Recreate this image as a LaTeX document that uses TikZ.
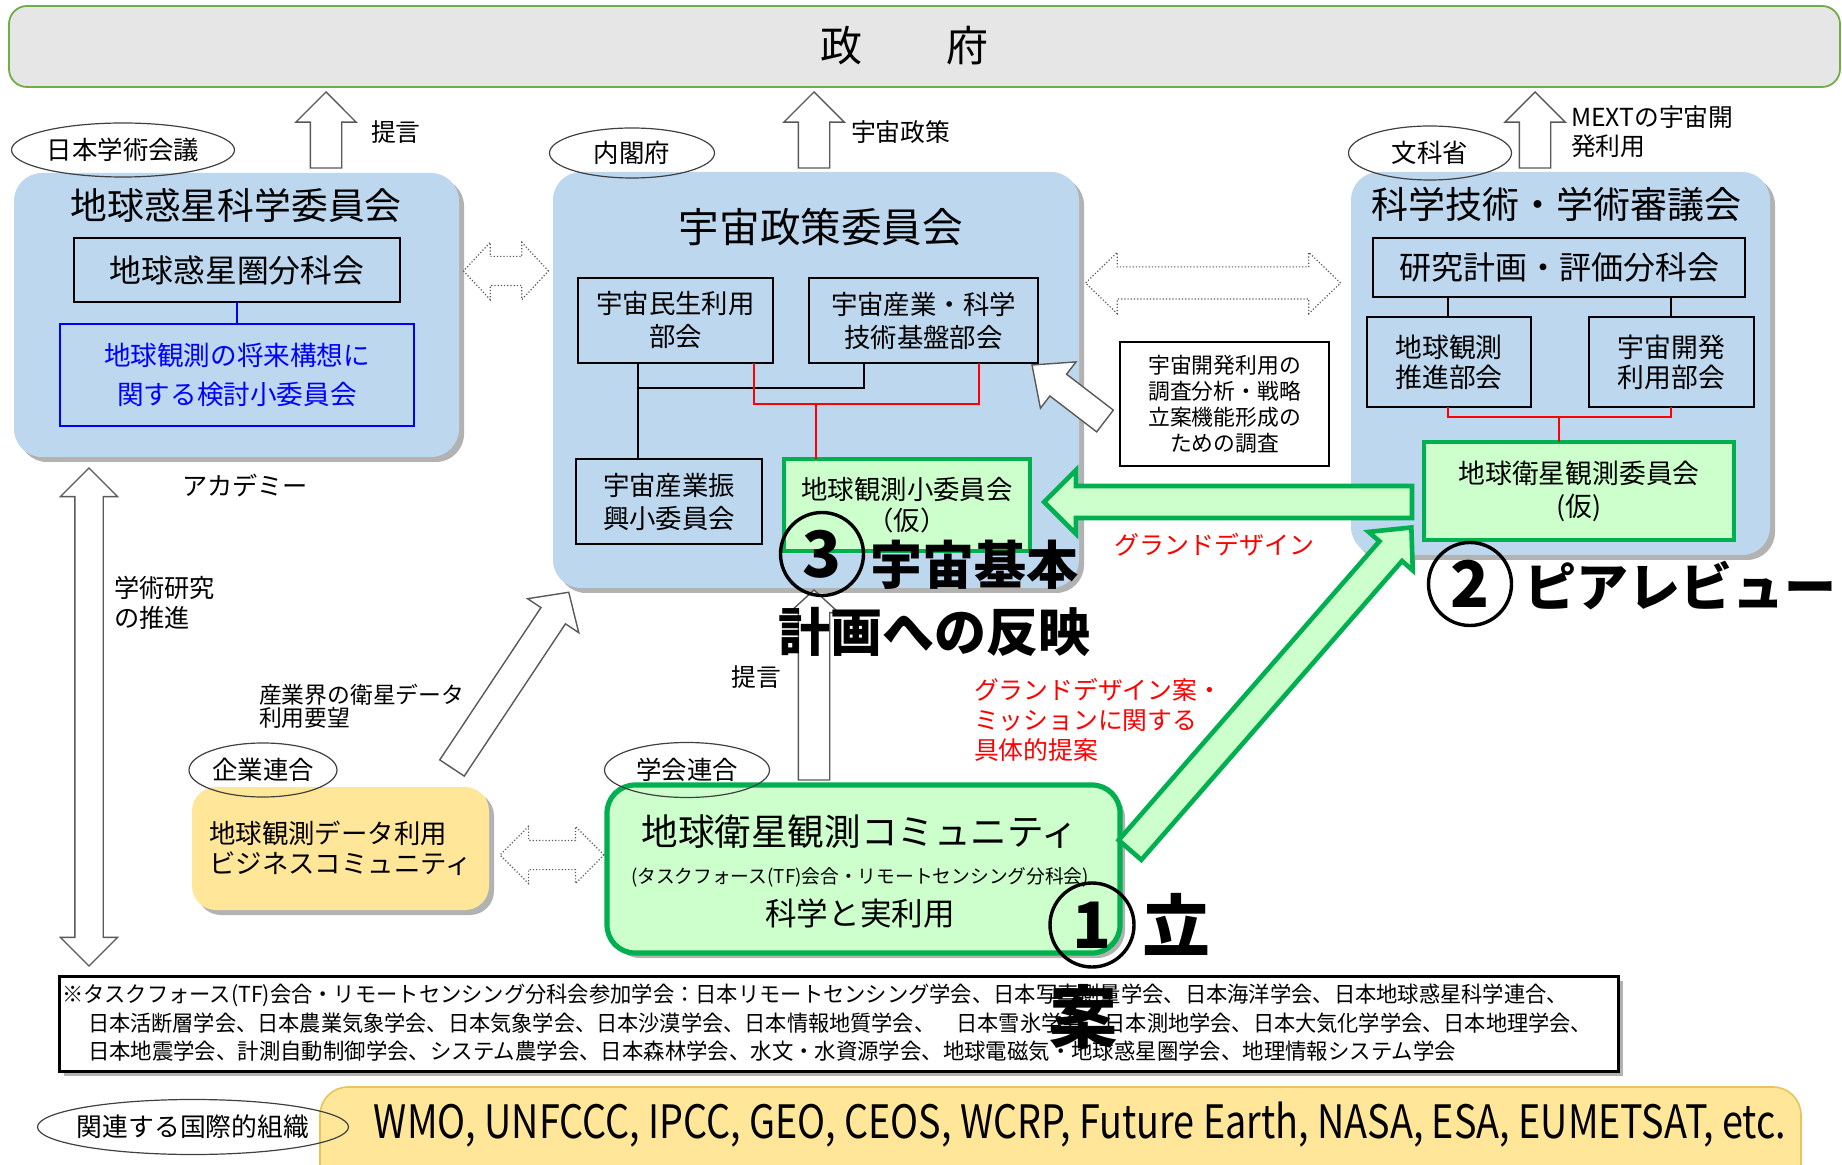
\documentclass[tikz,border=0pt]{standalone}
\usepackage{fontspec}
\usepackage{graphicx}
\setmainfont{Noto Sans CJK JP}
\usetikzlibrary{shapes.geometric,shapes.arrows,shadows,fit,calc}
\definecolor{govline}{HTML}{70AD47}
\definecolor{govfill}{HTML}{E7E6E6}
\definecolor{bfill}{HTML}{BDD7EE}
\definecolor{gfill}{HTML}{CCFFCC}
\definecolor{gline}{HTML}{00B050}
\definecolor{yfill}{HTML}{FFE699}
\definecolor{yline}{HTML}{E8C55A}
\definecolor{pblue}{HTML}{0000FF}
\definecolor{pred}{HTML}{FF0000}
\definecolor{ellc}{HTML}{404040}
\definecolor{harrow}{HTML}{595959}
\newcommand{\fsz}[2]{\fontsize{#1pt}{#2pt}\selectfont}
\newcommand{\wfit}[2]{\resizebox{#1}{\height}{#2}}
\newcommand{\ztext}[1]{\makebox[0pt]{#1}}
\tikzset{
  every node/.style={inner sep=0pt, outer sep=0pt},
  shadowed/.style={drop shadow={shadow xshift=2.5pt, shadow yshift=-2.5pt, opacity=0.3, fill=black}},
  bluebox/.style={fill=bfill, rounded corners=14pt, shadowed},
  inbox/.style={draw=black, line width=1.2pt, align=center},
  gbox/.style={draw=gline, line width=2.3pt, fill=gfill, align=center},
  ellnode/.style={ellipse, draw=ellc, line width=0.6pt},
  conn/.style={line width=1.1pt, black},
  rconn/.style={line width=1.1pt, pred},
  hollow/.style={single arrow, draw=harrow, line width=0.7pt, fill=white},
  dhollow/.style={double arrow, draw=harrow, line width=0.7pt, fill=white},
  dotarr/.style={double arrow, draw=harrow, line width=0.6pt, densely dotted, fill=white},
  garrow/.style={single arrow, draw=gline, line width=2.3pt, fill=gfill},
  big/.style={font=\bfseries\fsz{26}{30}},
  circ/.style={circle, draw=black, line width=1.7pt, minimum size=41.5pt, font=\bfseries\fsz{32}{32}},
}
\begin{document}
\begin{tikzpicture}[x=0.5pt,y=-0.5pt]
\path[use as bounding box] (0,0) rectangle (1842,1165);

% ---------- government ----------
\node[fit={(9,6)(1840,87)}, draw=govline, line width=0.9pt, fill=govfill, rounded corners=9pt] (gov) {};
\node[font=\fsz{21}{21}] (govtext) at (904,46) {政　　府};

% ---------- big background boxes ----------
\node[bluebox, fit={(14,173)(459,457)}] (b1) {};
\node[bluebox, fit={(553,172)(1079,588)}] (b2) {};
\node[bluebox, fit={(1351,172)(1770,555)}] (b3) {};
\node[fill=yfill, rounded corners=12pt, shadowed, align=left, minimum width=148.5pt, minimum height=61.5pt, font=\fsz{13.2}{15}] (biz) at (340.5,848.5) {地球観測データ利用\\ビジネスコミュニティ};
\node[fit={(607,785)(1120,953)}, fill=gfill, draw=gline, line width=2.6pt, rounded corners=14pt, shadowed] (comm) {};
\node[fit={(59,976)(1618,1071)}, draw=black, line width=1.5pt, fill=white, shadowed] (note) {};
\node[fit={(320,1087)(1801,1200)}, fill=yfill, draw=yline, line width=0.8pt, rounded corners=14pt] (intl) {};

% ---------- box 1 ----------
\node[font=\fsz{18.4}{20}] (b1t) at (236,205) {地球惑星科学委員会};
\node[inbox, minimum width=163pt, minimum height=32pt, font=\fsz{15.9}{18}] (b1a) at (237,270) {地球惑星圏分科会};
\node[inbox, draw=pblue, text=pblue, minimum width=177pt, minimum height=51pt, font=\fsz{13.3}{19.5}] (b1b) at (237,375) {地球観測の将来構想に\\関する検討小委員会};
\draw[pblue, line width=1.1pt] (b1a) -- (b1b);

% ---------- box 2 ----------
\node[font=\fsz{20.3}{22}] (b2t) at (821,227) {宇宙政策委員会};
\node[inbox, minimum width=97.5pt, minimum height=42.5pt, font=\fsz{13.2}{16.5}] (b2a) at (675.5,320.5) {宇宙民生利用\\部会};
\node[inbox, minimum width=114.5pt, minimum height=42.5pt, font=\fsz{13.2}{16.5}] (b2b) at (923.5,320.5) {宇宙産業・科学\\技術基盤部会};
\node[inbox, minimum width=93pt, minimum height=42.5pt, font=\fsz{13.2}{16.5}] (b2c) at (669,501.5) {宇宙産業振\\興小委員会};
\node[gbox, minimum width=123pt, minimum height=46pt, font=\fsz{13.2}{15.5}] (b2d) at (907,505) {地球観測小委員会\\（仮）};
\coordinate (jb1) at (638,388); \coordinate (jb2) at (864,388);
\coordinate (jr1) at (754,404); \coordinate (jr2) at (979,404); \coordinate (jr3) at (816,404);
\draw[conn] (b2a.south -| jb1) -- (b2c.north -| jb1);
\draw[conn] (jb1) -- (jb2) -- (b2b.south -| jb2);
\draw[rconn] (b2a.south -| jr1) -- (jr1) -- (jr2) -- (b2b.south -| jr2);
\draw[rconn] (jr3) -- (b2d.north -| jr3);

% ---------- box 3 ----------
\node[font=\fsz{18.5}{20}] (b3t) at (1556,205) {科学技術・学術審議会};
\node[inbox, minimum width=186pt, minimum height=29.5pt, font=\fsz{16}{18}] (b3a) at (1559,267.5) {研究計画・評価分科会};
\node[inbox, minimum width=82pt, minimum height=45pt, font=\fsz{13.4}{15}] (b3b) at (1449,362) {地球観測\\推進部会};
\node[inbox, minimum width=82.5pt, minimum height=45pt, font=\fsz{13.4}{15}] (b3c) at (1671.5,362) {宇宙開発\\利用部会};
\node[gbox, minimum width=155pt, minimum height=49pt, font=\fsz{13.4}{16.5}] (b3d) at (1579,491) {地球衛星観測委員会\\(仮)};
\coordinate (k1) at (1448,417); \coordinate (k2) at (1671,417); \coordinate (k3) at (1559,417);
\draw[conn] (b3a.south -| k1) -- (b3b.north -| k1);
\draw[conn] (b3a.south -| k2) -- (b3c.north -| k2);
\draw[rconn] (b3b.south -| k1) -- (k1) -- (k2) -- (b3c.south -| k2);
\draw[rconn] (k3) -- (b3d.north -| k3);

% ---------- survey box ----------
\node[inbox, fill=white, minimum width=104.5pt, minimum height=62pt, font=\fsz{10.9}{13}] (svy) at (1224.5,404) {宇宙開発利用の\\調査分析・戦略\\立案機能形成の\\ための調査};

% ---------- community texts ----------
\node[font=\fsz{18.3}{20}] (comm1) at (860,832) {地球衛星観測コミュニティ};
\node (comm2) at (860,877) {\wfit{229pt}{\fsz{9.5}{10}(タスクフォース(TF)会合・リモートセンシング分科会)}};
\node[font=\fsz{15.8}{18}] (comm3) at (860,913) {科学と実利用};

% ---------- footnote ----------
\node[anchor=west] (n1) at (62,995) {\wfit{753pt}{\fsz{11}{12}※タスクフォース(TF)会合・リモートセンシング分科会参加学会：日本リモートセンシング学会、日本写真測量学会、日本海洋学会、日本地球惑星科学連合、}};
\node[anchor=west] (n2) at (88,1023) {\wfit{752pt}{\fsz{11}{12}日本活断層学会、日本農業気象学会、日本気象学会、日本沙漠学会、日本情報地質学会、　日本雪氷学会、日本測地学会、日本大気化学学会、日本地理学会、}};
\node[anchor=west] (n3) at (88,1051) {\wfit{684pt}{\fsz{11}{12}日本地震学会、計測自動制御学会、システム農学会、日本森林学会、水文・水資源学会、地球電磁気・地球惑星圏学会、地理情報システム学会}};

% ---------- international ----------
\node (intlt) at (1080,1125) {\wfit{706pt}{\fsz{23}{25}WMO, UNFCCC, IPCC, GEO, CEOS, WCRP, Future Earth, NASA, ESA, EUMETSAT, etc.}};

% ---------- arrows ----------
\node[hollow, inner ysep=7.5pt, minimum height=38pt, minimum width=29.5pt, single arrow head extend=7.25pt, single arrow tip angle=90, rotate=90, anchor=tail] (up1) at (326,168) {};
\node[hollow, inner ysep=7.5pt, minimum height=38pt, minimum width=29.5pt, single arrow head extend=7.25pt, single arrow tip angle=90, rotate=90, anchor=tail] (up2) at (814,168) {};
\node[hollow, inner ysep=7.5pt, minimum height=38pt, minimum width=29.5pt, single arrow head extend=7.25pt, single arrow tip angle=90, rotate=90, anchor=tail] (up3) at (1535,168) {};
\node[hollow, inner ysep=7.5pt, minimum height=95pt, minimum width=24pt, single arrow head extend=4.5pt, single arrow tip angle=95, rotate=90, anchor=tail] (up4) at (814,780) {};
\node[hollow, inner ysep=7pt, minimum height=105.5pt, minimum width=30pt, single arrow head extend=8pt, single arrow tip angle=95, rotate=56.4, anchor=tail] (diag) at (452,768) {};
\node[hollow, inner ysep=6.5pt, minimum height=46pt, minimum width=28.5pt, single arrow head extend=7.75pt, single arrow tip angle=83, rotate=142.5, anchor=tail] (svyarr) at (1105,421) {};
\node[dhollow, inner ysep=6.75pt, minimum height=249pt, minimum width=28pt, double arrow head extend=7.25pt, double arrow tip angle=90, rotate=90] (acadarr) at (89,717) {};
\node[dotarr, inner ysep=7pt, minimum height=42.5pt, minimum width=28pt, double arrow head extend=7pt, double arrow tip angle=94] (d1) at (506,271) {};
\node[dotarr, inner ysep=7.75pt, minimum height=127.5pt, minimum width=30pt, double arrow head extend=7.25pt, double arrow tip angle=88] (d2) at (1213,283) {};
\node[dotarr, inner ysep=7pt, minimum height=52pt, minimum width=28pt, double arrow head extend=7pt, double arrow tip angle=90] (d3) at (552,855) {};
\node[garrow, inner ysep=6.85pt, minimum height=184pt, minimum width=29.7pt, single arrow head extend=8pt, single arrow tip angle=90, rotate=180, anchor=tail] (garr1) at (1412,502) {};
\node[garrow, inner ysep=6.35pt, minimum height=214pt, minimum width=27pt, single arrow head extend=7.15pt, single arrow tip angle=86, rotate=48.9, anchor=tail] (garr2) at (1130,850) {};

% ---------- ellipses ----------
\node[ellnode, minimum width=111.5pt, minimum height=27pt, font=\fsz{12.7}{14}] (jsc) at (123,150) {\ztext{日本学術会議}};
\node[ellnode, minimum width=82.5pt, minimum height=25pt, font=\fsz{12.7}{14}] (cao) at (632,153) {\ztext{内閣府}};
\node[ellnode, minimum width=81.5pt, minimum height=27pt, font=\fsz{12.7}{14}] (mext) at (1430,153) {\ztext{文科省}};
\node[ellnode, minimum width=74pt, minimum height=27pt, font=\fsz{12.7}{14}] (ent) at (263,770) {\ztext{企業連合}};
\node[ellnode, minimum width=82.5pt, minimum height=27.5pt, font=\fsz{12.7}{14}] (soc) at (687,770) {\ztext{学会連合}};
\node[ellnode, minimum width=155.5pt, minimum height=27.5pt, font=\fsz{12.9}{14}] (intlell) at (193,1127) {\ztext{関連する国際的組織}};

% ---------- labels ----------
\node[anchor=west, font=\fsz{12.4}{14}] (lt1) at (371,132) {提言};
\node[anchor=west, font=\fsz{12.4}{14}] (lt2) at (851,132) {宇宙政策};
\node[anchor=west, align=left, font=\fsz{12.4}{14.5}] (lt3) at (1571,132) {MEXTの宇宙開\\発利用};
\node[font=\fsz{12.6}{14}] (acad) at (245,485) {アカデミー};
\node[anchor=west, align=left, font=\fsz{12.6}{15}] (acad2) at (114,603) {学術研究\\の推進};
\node[anchor=west, align=left, font=\fsz{11.4}{11.6}] (ind) at (259,706) {産業界の衛星データ\\利用要望};
\node[font=\fsz{12.4}{14}] (lt4) at (756,677) {提言};
\node[text=pred, font=\fsz{12.5}{14}] (gd) at (1214,545) {グランドデザイン};
\node[anchor=west, align=left, text=pred, font=\fsz{12.4}{15}] (gdp) at (974,720) {グランドデザイン案・\\ミッションに関する\\具体的提案};

% ---------- big step labels ----------
\node[circ] (c3) at (822,554) {3};
\node[anchor=west, big] (l3a) at (870,565) {宇宙基本};
\node[big] (l3b) at (934,632) {計画への反映};
\node[circ] (c2) at (1470,584) {2};
\node[anchor=west, big] (l2) at (1524,586) {ピアレビュー};
\node[circ, minimum size=42pt] (c1) at (1092,925) {1};
\node[anchor=west, font=\bfseries\fsz{34}{36}] (l1a) at (1142,924) {立};
\node[font=\bfseries\fsz{34}{36}] (l1b) at (1083,1017) {案};
\end{tikzpicture}
\end{document}
